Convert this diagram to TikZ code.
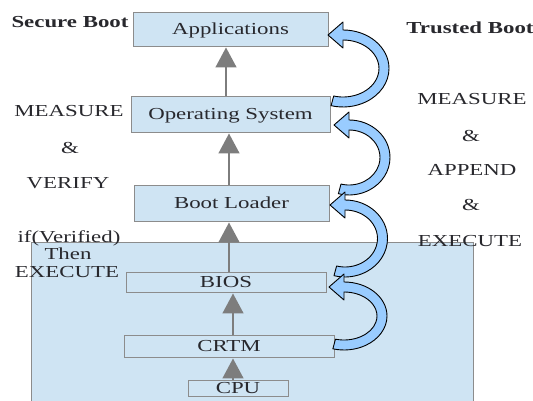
\documentclass[tikz,border=0pt]{standalone}
\usepackage{fontspec}
\setmainfont{Liberation Serif}[FakeStretch=1.36]
\usetikzlibrary{arrows.meta}
\definecolor{boxfill}{RGB}{207,228,243}
\definecolor{boxline}{RGB}{140,140,140}
\definecolor{arrgray}{RGB}{125,125,125}
\definecolor{bluearr}{RGB}{153,204,255}
\definecolor{txt}{RGB}{40,40,45}
\newcommand{\curvearrow}[4]{%
  \pgfmathsetmacro{\bcx}{#1+15}%
  \pgfmathsetmacro{\bry}{(#2-#3)/2}%
  \filldraw[fill=bluearr, draw=black, line width=0.9pt, line join=round]
    (#1,#2) -- (\bcx,#2+13) -- (\bcx,#2+5)
    arc[start angle=90, end angle=-105, x radius=#4+5, y radius=\bry+5]
    -- ++(2.59,9.66)
    arc[start angle=-105, end angle=90, x radius=#4-5, y radius=\bry-5]
    -- (\bcx,#2-13) -- cycle;}
\begin{document}
\begin{tikzpicture}[x=1pt,y=1pt,
  font=\fontsize{16.8}{18}\selectfont, text=txt,
  layer/.style={draw=boxline, fill=boxfill, line width=1pt, inner sep=0pt,
    text height=1.05em, text depth=0.1em},
  lab/.style={inner sep=0pt, text height=0.66em, text depth=0pt, yshift=-2.5pt},
  garrow/.style={draw=arrgray, line width=1.6pt, -{Triangle[width=21pt,length=20pt]}, fill=arrgray}]
\useasboundingbox (0,0) rectangle (533,401);
% base platform
\node[fill=boxfill, inner sep=0pt, minimum width=442, minimum height=170, anchor=north west] (base) at (31,158) {};
\draw[boxline, line width=1pt] (base.south west) -- (base.north west) -- (base.north east) -- (base.south east);
% layers
\node[layer, minimum width=195, minimum height=34] (apps) at (230.5,371) {Applications};
\node[layer, minimum width=199, minimum height=36] (os) at (230.5,286) {Operating System};
\node[layer, minimum width=195, minimum height=36] (bl) at (231.5,197) {Boot Loader};
\node[layer, minimum width=200, minimum height=20] (bios) at (226,118) {BIOS};
\node[layer, minimum width=210, minimum height=22] (crtm) at (229,54) {CRTM};
\node[layer, minimum width=100, minimum height=16] (cpu) at (238,12) {CPU};
% gray arrows
\draw[garrow] ([xshift=-4.5pt]os.north) -- ([xshift=-4.5pt]os.north |- apps.south);
\draw[garrow] ([xshift=-2.5pt]bl.north) -- ([xshift=-2.5pt]bl.north |- os.south);
\draw[garrow] ([xshift=3pt]bios.north) -- ([xshift=3pt]bios.north |- bl.south);
\draw[garrow] ([xshift=4pt]crtm.north) -- ([xshift=4pt]crtm.north |- bios.south);
\draw[garrow] ([xshift=-5pt]cpu.north) -- ([xshift=-5pt]cpu.north |- crtm.south);
% blue curved arrows
\curvearrow{328}{366}{299}{41}
\curvearrow{334}{276}{211}{36}
\curvearrow{330}{196}{129}{37.5}
\curvearrow{329}{114}{56}{38}
% labels
\node[lab] (sb) at (70,379) {\bfseries Secure Boot};
\node[lab] (tb) at (470,373) {\bfseries Trusted Boot};
\node[lab] (lm) at (69,290) {MEASURE};
\node[lab] (la) at (70,253) {\&};
\node[lab] (lv) at (68,218) {VERIFY};
\node[lab] (li) at (69,164.5) {if(Verified)};
\node[lab] (lt) at (68,147) {Then};
\node[lab] (le) at (67,129.5) {EXECUTE};
\node[lab] (rm) at (472,302) {MEASURE};
\node[lab] (ra) at (471,265) {\&};
\node[lab] (rp) at (472,231) {APPEND};
\node[lab] (rb) at (471,196) {\&};
\node[lab] (re) at (470,160) {EXECUTE};
\end{tikzpicture}
\end{document}
